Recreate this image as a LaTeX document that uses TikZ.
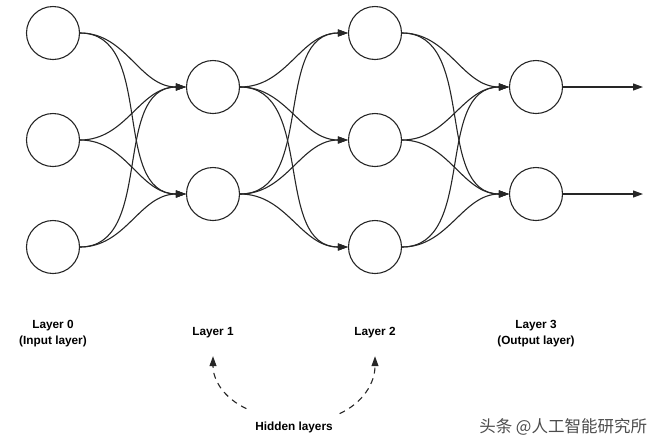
\documentclass[tikz,border=0pt]{standalone}
\usepackage{fontspec}
\setmainfont{Liberation Sans}
\newfontfamily\cjkfont{Noto Sans CJK SC}
\usetikzlibrary{arrows.meta}

\begin{document}
\begin{tikzpicture}[x=1pt,y=-1pt,>={Triangle[length=10pt,width=7pt]},node distance=107pt,line width=1.1pt,draw=black!85,
                    every node/.style={font=\fontsize{11.8}{16}\selectfont\bfseries, align=center},
                    neuron/.style={circle, draw=black!85, minimum size=53pt, inner sep=0pt},
                    synapse/.style={->, out=0, in=180},
                    hint/.style={->, dashed, dash pattern=on 6pt off 5pt}]
                    \useasboundingbox (0,0) rectangle (658,440);

                    % layer 0
                    \node [neuron](01) at (53,33){};
                    \node [neuron](02) [below of = 01]{};
                    \node [neuron](03) [below of = 02]{};
                    % layer 1
                    \node [neuron](11) [right of = 01, xshift = 53pt, yshift = -54pt]{};
                    \node [neuron](12) [below of = 11]{};
                    % layer 2
                    \node [neuron](21) [right of = 11, xshift = 55pt, yshift = 54pt]{};
                    \node [neuron](22) [below of = 21]{};
                    \node [neuron](23) [below of = 22]{};
                    % layer 3
                    \node [neuron](31) [right of = 21, xshift = 54pt, yshift = -54pt]{};
                    \node [neuron](32) [below of = 31]{};
                    \coordinate [right of = 31](o1);
                    \coordinate [right of = 32](o2);

                    \path
                        (01) edge[synapse](11)
                        (01) edge[synapse](12)
                        (02) edge[synapse](11)
                        (02) edge[synapse](12)
                        (03) edge[synapse](11)
                        (03) edge[synapse](12)

                        (11) edge[synapse](21)
                        (11) edge[synapse](22)
                        (11) edge[synapse](23)
                        (12) edge[synapse](21)
                        (12) edge[synapse](22)
                        (12) edge[synapse](23)

                        (21) edge[synapse](31)
                        (21) edge[synapse](32)
                        (22) edge[synapse](31)
                        (22) edge[synapse](32)
                        (23) edge[synapse](31)
                        (23) edge[synapse](32)

                        (31) edge[->](o1)
                        (32) edge[->](o2)
                    ;

                    % labels
                    \node (l0) at (53,334){Layer 0\\(Input layer)};
                    \node (l1) at (213,333){Layer 1};
                    \node (l2) at (375,333){Layer 2};
                    \node (l3) at (536,334){Layer 3\\(Output layer)};
                    \node (hidden) at (294,427){Hidden layers};
                    \node [font=\cjkfont\fontsize{16.5}{16.5}\selectfont, text=black!70, anchor=east](mark) at (651,427){头条 @人工智能研究所};

                    \draw[hint] ([shift={(-5pt,9pt)}]hidden.north west) to[out=155, in=-90] ([yshift=-14pt]l1.south);
                    \draw[hint] ([shift={(3pt,4pt)}]hidden.north east) to[out=25, in=-90] ([yshift=-14pt]l2.south);
                \end{tikzpicture}
\end{document}
